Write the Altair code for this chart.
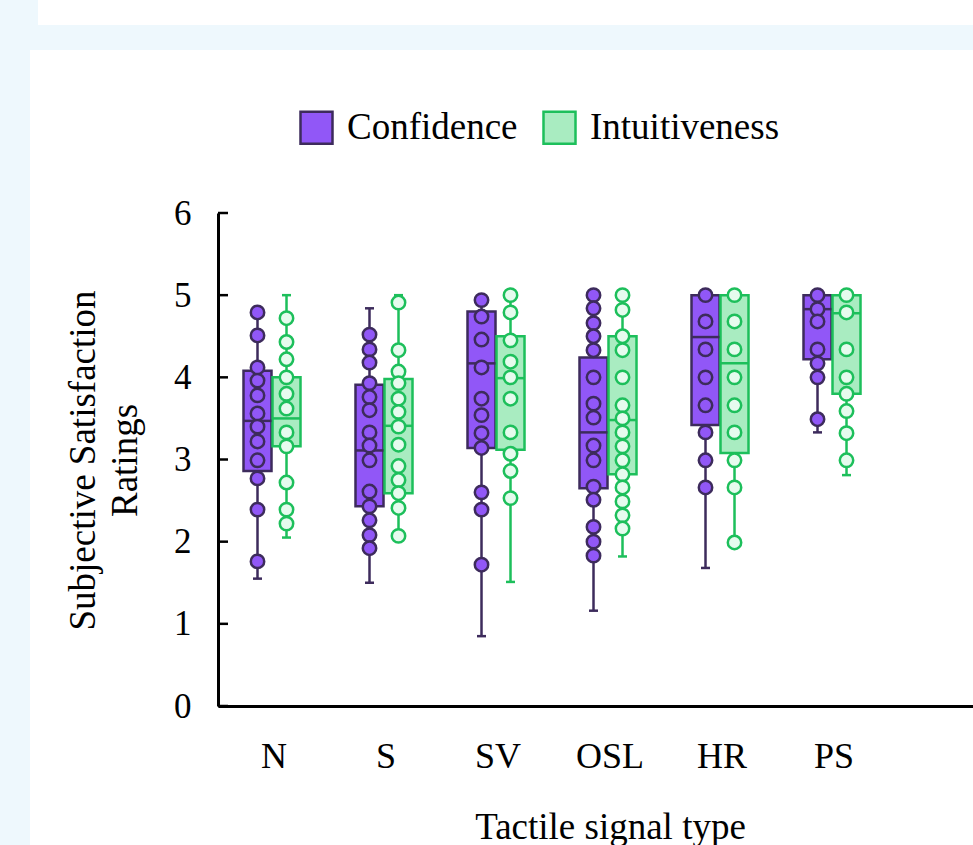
import altair as alt
import pandas as pd

CATEGORIES = ["N", "S", "SV", "OSL", "HR", "PS"]
SERIES = ["Confidence", "Intuitiveness"]

# Box statistics per category (order of CATEGORIES)
CONF_Q1 = [2.86, 2.43, 3.14, 2.65, 3.42, 4.22]
CONF_MED = [3.47, 3.11, 4.17, 3.33, 4.49, 4.83]
CONF_Q3 = [4.08, 3.91, 4.80, 4.24, 5.00, 5.00]
CONF_LO = [1.55, 1.50, 0.85, 1.16, 1.68, 3.33]
CONF_HI = [4.79, 4.84, 4.94, 5.00, 5.00, 5.00]

INTU_Q1 = [3.16, 2.59, 3.12, 2.82, 3.08, 3.80]
INTU_MED = [3.50, 3.41, 3.99, 3.48, 4.17, 4.78]
INTU_Q3 = [4.00, 3.98, 4.50, 4.50, 5.00, 5.00]
INTU_LO = [2.05, 2.06, 1.51, 1.82, 1.99, 2.81]
INTU_HI = [5.00, 5.00, 5.00, 5.00, 5.00, 5.00]

# Individual ratings drawn as dots
CONF_N = [4.79, 4.51, 4.12, 3.96, 3.78, 3.56, 3.40, 3.22, 2.99, 2.77, 2.39, 1.76]
CONF_S = [4.52, 4.34, 4.18, 3.93, 3.76, 3.60, 3.33, 3.17, 2.99, 2.61, 2.43, 2.26, 2.08, 1.92]
CONF_SV = [4.94, 4.74, 4.46, 4.12, 3.74, 3.54, 3.32, 3.14, 2.60, 2.39, 1.72]
CONF_OSL = [5.00, 4.84, 4.66, 4.50, 4.33, 4.00, 3.68, 3.51, 3.17, 2.99, 2.67, 2.51, 2.18, 2.00, 1.83]
CONF_HR = [5.00, 4.68, 4.34, 4.00, 3.66, 3.33, 2.99, 2.66]
CONF_PS = [5.00, 4.83, 4.68, 4.34, 4.17, 4.00, 3.49]

INTU_N = [4.72, 4.43, 4.22, 4.00, 3.80, 3.62, 3.33, 3.16, 2.72, 2.39, 2.22]
INTU_S = [4.91, 4.33, 4.07, 3.93, 3.74, 3.58, 3.40, 3.18, 2.92, 2.75, 2.59, 2.41, 2.07]
INTU_SV = [5.00, 4.79, 4.45, 4.19, 4.00, 3.74, 3.33, 3.07, 2.86, 2.53]
INTU_OSL = [5.00, 4.82, 4.50, 4.33, 4.00, 3.66, 3.50, 3.33, 3.16, 2.99, 2.82, 2.66, 2.49, 2.32, 2.16]
INTU_HR = [5.00, 4.68, 4.34, 4.00, 3.66, 3.33, 2.99, 2.66, 1.99]
INTU_PS = [5.00, 4.79, 4.34, 4.00, 3.80, 3.59, 3.32, 2.99]

Y_TICKS = [0, 1, 2, 3, 4, 5, 6]

# ---- styles ----
FONT = "Liberation Serif"
BG = "#eef8fd"
BOX_FILL = ["#9157f7", "#a9ecc1"]
LINE_COL = ["#3d2b5c", "#1dbf5b"]
PT_FILL = ["#9157f7", "#e6fbee"]

# ---- tables ----
box_rows = []
for i, c in enumerate(CATEGORIES):
    box_rows.append(dict(cat=c, series="Confidence", q1=CONF_Q1[i], med=CONF_MED[i],
                         q3=CONF_Q3[i], lo=CONF_LO[i], hi=CONF_HI[i]))
    box_rows.append(dict(cat=c, series="Intuitiveness", q1=INTU_Q1[i], med=INTU_MED[i],
                         q3=INTU_Q3[i], lo=INTU_LO[i], hi=INTU_HI[i]))
box_df = pd.DataFrame(box_rows)

conf_pts = dict(N=CONF_N, S=CONF_S, SV=CONF_SV, OSL=CONF_OSL, HR=CONF_HR, PS=CONF_PS)
intu_pts = dict(N=INTU_N, S=INTU_S, SV=INTU_SV, OSL=INTU_OSL, HR=INTU_HR, PS=INTU_PS)
pt_rows = []
for c in CATEGORIES:
    for v in conf_pts[c]:
        pt_rows.append(dict(cat=c, series="Confidence", value=v))
    for v in intu_pts[c]:
        pt_rows.append(dict(cat=c, series="Intuitiveness", value=v))
pt_df = pd.DataFrame(pt_rows)

tick_df = pd.DataFrame({"t": Y_TICKS})

W, H = 755, 493

x_enc = alt.X(
    "cat:N",
    sort=CATEGORIES,
    scale=alt.Scale(type="band", domain=CATEGORIES, paddingInner=0, paddingOuter=0.3705, align=0),
    axis=alt.Axis(
        title="Tactile signal type", ticks=False, tickSize=0, labelAngle=0, zindex=2,
        domainColor="black", domainWidth=3, grid=False,
        labelFont=FONT, labelFontSize=36, labelColor="black", labelPadding=33,
        titleFont=FONT, titleFontSize=37, titleFontWeight="normal", titleColor="black",
        titleX=392, titleY=103, titleBaseline="top", titleAlign="center",
    ),
)
xo_enc = alt.XOffset(
    "series:N",
    scale=alt.Scale(domain=SERIES, paddingInner=0, paddingOuter=0.931, align=0.463),
)
y_scale = alt.Scale(domain=[0, 6], nice=False, zero=True)

y_axis = alt.Axis(
    title=["Subjective Satisfaction", "Ratings"], values=Y_TICKS, ticks=False, tickSize=0,
    domainColor="black", domainWidth=3, grid=False, zindex=2,
    labelFont=FONT, labelFontSize=35, labelColor="black", labelPadding=27,
    titleFont=FONT, titleFontSize=37, titleFontWeight="normal", titleColor="black",
    titleLineHeight=42, titleX=-153, titleY=247, titleBaseline="top", titleAlign="center",
)


def ser_scale(rng):
    return alt.Scale(domain=SERIES, range=rng)


def yq(field):
    return alt.Y(field, scale=y_scale, axis=y_axis)


bg_data = alt.Data(values=[{"k": 1}])
bg_main = alt.Chart(bg_data).mark_rect(color="white").encode(
    x=alt.value(-188), x2=alt.value(W + 10), y=alt.value(-163), y2=alt.value(H + 150)
)
bg_top = alt.Chart(bg_data).mark_rect(color="white").encode(
    x=alt.value(-180), x2=alt.value(W + 10), y=alt.value(-220), y2=alt.value(-188)
)

whisk = alt.Chart(box_df).mark_rule(strokeWidth=2.5).encode(
    x=x_enc, xOffset=xo_enc,
    y=yq("lo:Q"),
    y2="hi:Q",
    stroke=alt.Stroke("series:N", scale=ser_scale(LINE_COL), legend=None),
)

caps = alt.Chart(box_df).transform_fold(["lo", "hi"], as_=["end", "v"]).mark_tick(
    thickness=2.5, size=9, opacity=1
).encode(
    x=x_enc, xOffset=xo_enc,
    y=yq("v:Q"),
    color=alt.Color("series:N", scale=ser_scale(LINE_COL), legend=None),
)

legend = alt.Legend(
    title=None, orient="none", legendX=80, legendY=-104, direction="horizontal",
    symbolType="square", symbolSize=1024, symbolStrokeWidth=2.5,
    labelFont=FONT, labelFontSize=37, labelColor="black", labelOffset=12, labelLimit=500,
    columnPadding=20,
)

boxes = alt.Chart(box_df).mark_bar(size=28, strokeWidth=2.5, fillOpacity=1).encode(
    x=x_enc, xOffset=xo_enc,
    y=yq("q1:Q"),
    y2="q3:Q",
    fill=alt.Fill("series:N", scale=ser_scale(BOX_FILL), legend=legend),
    stroke=alt.Stroke("series:N", scale=ser_scale(LINE_COL), legend=legend),
)

meds = alt.Chart(box_df).mark_tick(thickness=2.5, size=28, opacity=1).encode(
    x=x_enc, xOffset=xo_enc,
    y=yq("med:Q"),
    color=alt.Color("series:N", scale=ser_scale(LINE_COL), legend=None),
)

pts = alt.Chart(pt_df).mark_circle(size=180, strokeWidth=2.5, opacity=1).encode(
    x=x_enc, xOffset=xo_enc,
    y=yq("value:Q"),
    fill=alt.Fill("series:N", scale=ser_scale(PT_FILL), legend=None),
    stroke=alt.Stroke("series:N", scale=ser_scale(LINE_COL), legend=None),
)

yticks = alt.Chart(tick_df).mark_tick(color="black", thickness=2.5, size=10, opacity=1).encode(
    y=yq("t:Q"),
    x=alt.value(5),
)

chart = alt.layer(bg_main, bg_top, whisk, caps, boxes, meds, pts, yticks).resolve_scale(
    fill="independent", stroke="independent", color="independent"
).properties(
    width=W, height=H, background=BG,
    autosize=alt.AutoSizeParams(type="none"),
    padding={"left": 218, "top": 213, "right": 0, "bottom": 139},
).configure_view(stroke=None)

chart.save("out.html", embed_options={"renderer": "svg", "actions": False})
